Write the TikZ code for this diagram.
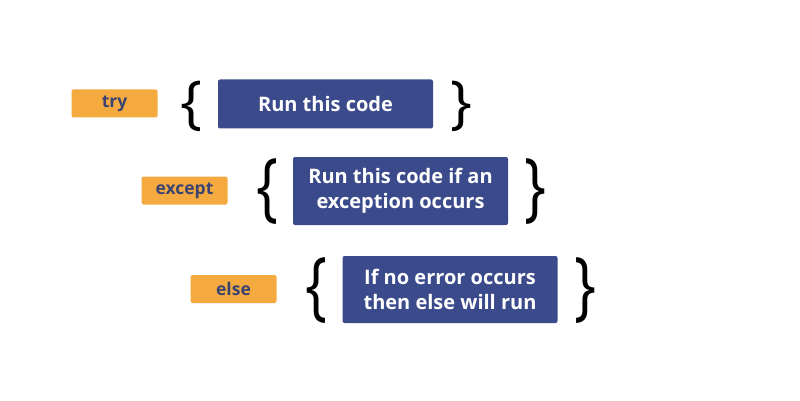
\documentclass[tikz,border=0pt]{standalone}
\usepackage{fontspec}
\setmainfont{Open Sans}
\definecolor{keyorange}{HTML}{F5AA40}
\definecolor{codeblue}{HTML}{3A4A8A}
\definecolor{keytext}{HTML}{3B4470}

\tikzset{
  keyword/.style={fill=keyorange, rounded corners=2pt, minimum width=86pt, minimum height=28pt,
    inner sep=0pt, text=keytext, font=\fontsize{17.5}{20}\selectfont\bfseries},
  codebox/.style={fill=codeblue, rounded corners=2pt, minimum width=215pt, inner sep=0pt,
    text=white, align=center, font=\fontsize{20}{25}\selectfont\bfseries},
  curly/.style={inner sep=0pt, font=\fontsize{58}{58}\selectfont}
}

\begin{document}
\begin{tikzpicture}[x=1pt,y=-1pt]
  \useasboundingbox[fill=white] (0,0) rectangle (800,401);

  % try block
  \node[keyword] (try) at (114.5,103.5) {try};
  \node[codebox, minimum height=49pt] (tryrun) at (325.5,104) {Run this code};
  \node[curly] (tryopen) at (191,106) {\{};
  \node[curly] (tryclose) at (461,106) {\}};

  % except block
  \node[keyword] (except) at (184.5,190.5) {except};
  \node[codebox, minimum height=68pt] (exceptrun) at (400.5,191) {Run this code if an\\exception occurs};
  \node[curly, yscale=1.3] (exceptopen) at (267,192) {\{};
  \node[curly, yscale=1.3] (exceptclose) at (535,192) {\}};

  % else block
  \node[keyword] (else) at (233.5,289) {else};
  \node[codebox, minimum height=67pt] (elserun) at (450,289.5) {If no error occurs\\then else will run};
  \node[curly, yscale=1.3] (elseopen) at (316,291) {\{};
  \node[curly, yscale=1.3] (elseclose) at (585,291) {\}};
\end{tikzpicture}
\end{document}
